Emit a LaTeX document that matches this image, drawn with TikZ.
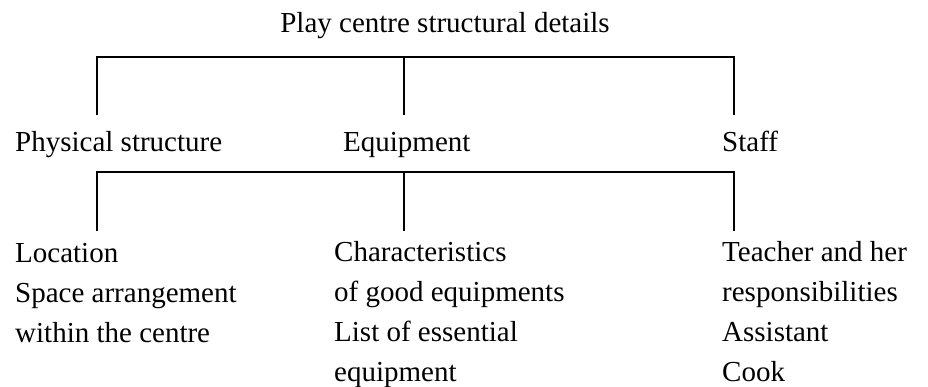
\documentclass[tikz,border=0pt]{standalone}
\usepackage{fontspec}
\setmainfont{Liberation Serif}
\usepackage{tikz}
\usetikzlibrary{positioning}
\tikzstyle{heading} = [draw=none, fill=none, inner sep=0pt, anchor=base west, font=\fontsize{29}{40}\selectfont]
\tikzstyle{items} = [heading, anchor=north west, align=left]
\tikzstyle{bar} = [draw, line width=2pt, line join=miter]

\begin{document}
\begin{tikzpicture}[x=1pt, y=-1pt]
\useasboundingbox (0,0) rectangle (928,387);

% headings =============================
\node[heading, anchor=base] (title) at (445,33) {Play centre structural details};
\node[heading] (phys) at (15,152) {Physical structure};
\node[heading] (equip) at (343,152) {Equipment};
\node[heading] (staff) at (722,152) {Staff};

% lists
\node[items] (physlist) at (15,243) {Location\\Space arrangement\\within the centre};
\node[items] (equiplist) at (334,241) {Characteristics\\of good equipments\\List of essential\\equipment};
\node[items] (stafflist) at (722,241) {Teacher and her\\responsibilities\\Assistant\\Cook};

% bars
\coordinate (topl) at (97,57);
\coordinate (topm) at (404,57);
\coordinate (topr) at (734,57);
\coordinate (physup) at (97,115);
\coordinate (equipup) at (404,115);
\coordinate (staffup) at (734,115);
\coordinate (lowl) at (97,172);
\coordinate (lowm) at (404,172);
\coordinate (lowr) at (734,172);
\coordinate (physlistup) at (97,231);
\coordinate (equiplistup) at (404,231);
\coordinate (stafflistup) at (734,231);

\path[bar] (physup) -- (topl) -- (topr) -- (staffup);
\path[bar] (topm) -- (equipup);
\path[bar] (physlistup) -- (lowl) -- (lowr) -- (stafflistup);
\path[bar] (lowm) -- (equiplistup);

\end{tikzpicture}
\end{document}
